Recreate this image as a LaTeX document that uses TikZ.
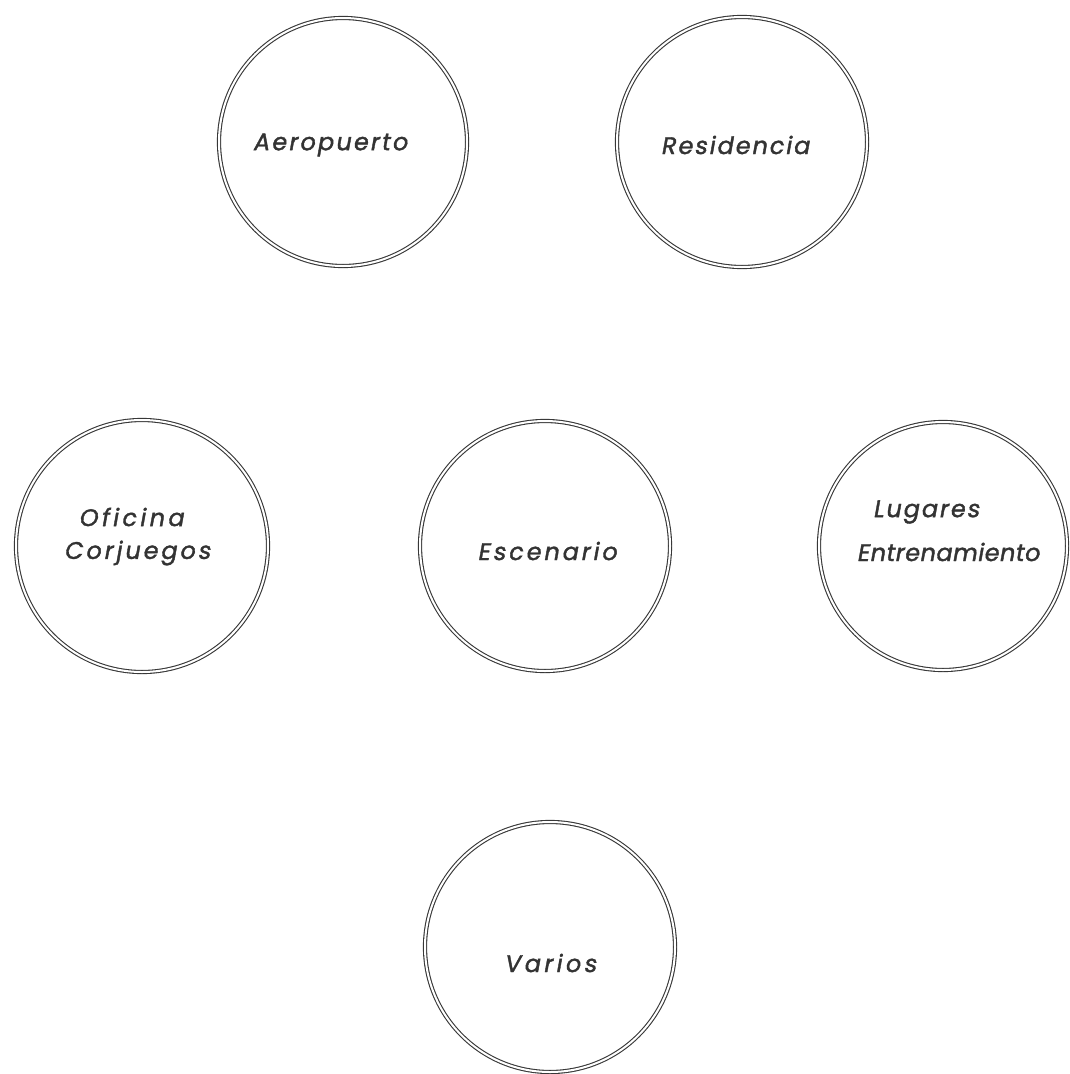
\documentclass[tikz,border=0pt]{standalone}
\usepackage{fontspec}
\newfontfamily\labfont[FakeSlant=0.18,FakeBold=1.6]{Poppins}
\begin{document}
\begin{tikzpicture}[x=1pt,y=-1pt,
  place/.style={circle,draw=black!78,double,double distance=2pt,line width=1.1pt,inner sep=0pt,minimum size=#1},
  lab/.style={inner sep=0pt,text=black!80,font=\labfont\fontsize{24}{28}\selectfont}]
\useasboundingbox (0,0) rectangle (1069,1074);
\node[place=248] (aero) at (343,142) {};
\node[place=250] (resi) at (742,142) {};
\node[place=252] (ofi) at (142,546) {};
\node[place=250] (esc) at (545,546) {};
\node[place=248] (lug) at (943,546) {};
\node[place=250] (var) at (550,947) {};
\node[lab] (taero) at (330,145) {\addfontfeature{LetterSpace=9}Aeropuerto};
\node[lab] (tresi) at (735,145) {\addfontfeature{LetterSpace=8}Residencia};
\node[lab] (tofi1) at (131,517) {\addfontfeature{LetterSpace=14}Oficina};
\node[lab] (tofi2) at (137,553) {\addfontfeature{LetterSpace=12}Corjuegos};
\node[lab] (tesc) at (547,551) {\addfontfeature{LetterSpace=12}Escenario};
\node[lab] (tlug1) at (926,512) {\addfontfeature{LetterSpace=8}Lugares};
\node[lab] (tlug2) at (948,552) {\addfontfeature{LetterSpace=2}Entrenamiento};
\node[lab] (tvar) at (550,963) {\addfontfeature{LetterSpace=14}Varios};
\end{tikzpicture}
\end{document}
